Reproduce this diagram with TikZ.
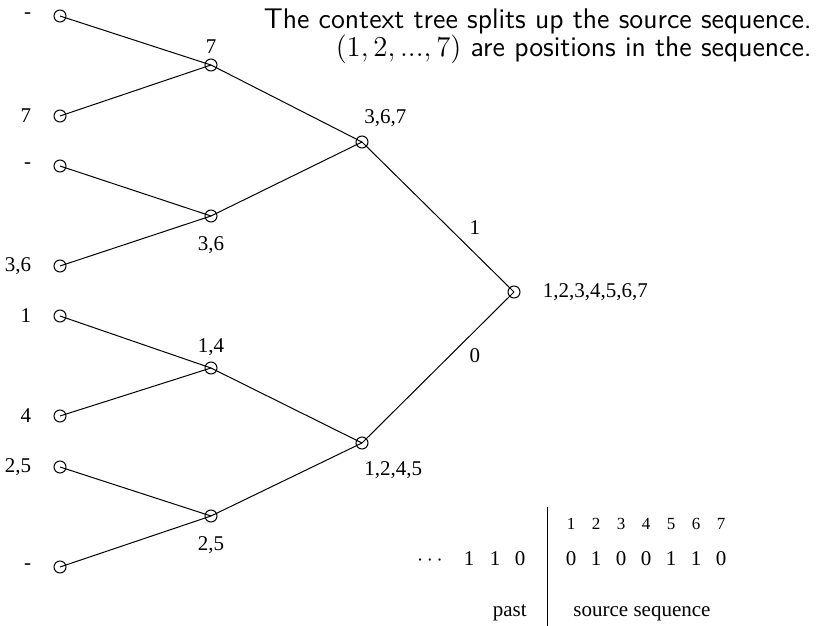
\documentclass[tikz,border=0pt]{standalone}
\usepackage{fontspec}
\usepackage{tikz}
\usetikzlibrary{positioning}
\newfontfamily\tmsfont{Liberation Serif}
\tikzset{
  vtx/.style={circle,draw=black,line width=0.5pt,minimum size=6pt,inner sep=0pt},
  lbl/.style={font=\tmsfont\fontsize{10.5}{12}\selectfont,inner sep=1pt},
  tbl/.style={font=\tmsfont\fontsize{10.5}{12}\selectfont,inner sep=0pt,anchor=base},
  tblsmall/.style={font=\tmsfont\fontsize{8.5}{10}\selectfont,inner sep=0pt,anchor=base},
  ttl/.style={font=\sffamily\fontsize{14.2}{17}\selectfont,anchor=base east,inner sep=0pt},
  edge/.style={line width=0.5pt}
}

\begin{document}
\begin{tikzpicture}[x=0.5pt,y=-0.5pt]
  \useasboundingbox (0,0) rectangle (816,626);
  % leaves
  \foreach \n/\y/\lab in {l1/16/-,l2/116/7,l3/166/-,l4/266/{3,6},l5/316/1,l6/416/4,l7/467/{2,5},l8/567/-}{
    \node[vtx] (\n) at (60,\y) {};
    \node[lbl,left=10pt of \n] (\n t) {\lab};
  }
  % inner nodes
  \node[vtx,label={[lbl,label distance=1.5pt]above:7}] (a1) at (211,65) {};
  \node[vtx,label={[lbl,label distance=6pt]below:3,6}] (a2) at (211,216) {};
  \node[vtx,label={[lbl,label distance=1.5pt]above:1,4}] (a3) at (211,368) {};
  \node[vtx,label={[lbl,label distance=6pt]below:2,5}] (a4) at (211,516) {};
  \node[vtx,label={[lbl,anchor=south west,label distance=3pt]north:3,6,7}] (b1) at (362,142) {};
  \node[vtx,label={[lbl,anchor=north west,label distance=5pt]south:1,2,4,5}] (b2) at (362,443) {};
  \node[vtx] (r) at (514,292) {};
  \node[lbl,right=10pt of r] (rt) {1,2,3,4,5,6,7};
  % connectors
  \foreach \p/\c in {a1/l1,a1/l2,a2/l3,a2/l4,a3/l5,a3/l6,a4/l7,a4/l8,b1/a1,b1/a2,b2/a3,b2/a4}
    \draw[edge] (\p.center) -- (\c.center);
  \draw[edge] (r.center) -- node[lbl,pos=0.4,right=7pt,yshift=2pt] (e1) {1} (b1.center);
  \draw[edge] (r.center) -- node[lbl,pos=0.4,right=7pt,yshift=-1.5pt] (e0) {0} (b2.center);
  % title
  \node[ttl] (t1) at (812,29) {The context tree splits up the source sequence.};
  \node[ttl] (t2) at (812,57) {$(1,2,...,7)$ are positions in the sequence.};
  % sequence table
  \coordinate (vt) at (547,507);
  \coordinate (vb) at (547,626);
  \draw[edge] (vt) -- (vb);
  \foreach \x/\i/\v in {571/1/0,596/2/1,621/3/0,646/4/0,671/5/1,696/6/1,721/7/0}{
    \node[tblsmall] (p\i) at (\x,530) {\i};
    \node[tbl] (s\i) at (\x,566) {\v};
  }
  \node[tbl] (d0) at (430,566) {$\cdots$};
  \node[tbl] (h1) at (469,566) {1};
  \node[tbl] (h2) at (495,566) {1};
  \node[tbl] (h3) at (520,566) {0};
  \node[tbl,anchor=base east] (past) at (527,617) {past};
  \node[tbl] (src) at (642,617) {source sequence};
\end{tikzpicture}
\end{document}
